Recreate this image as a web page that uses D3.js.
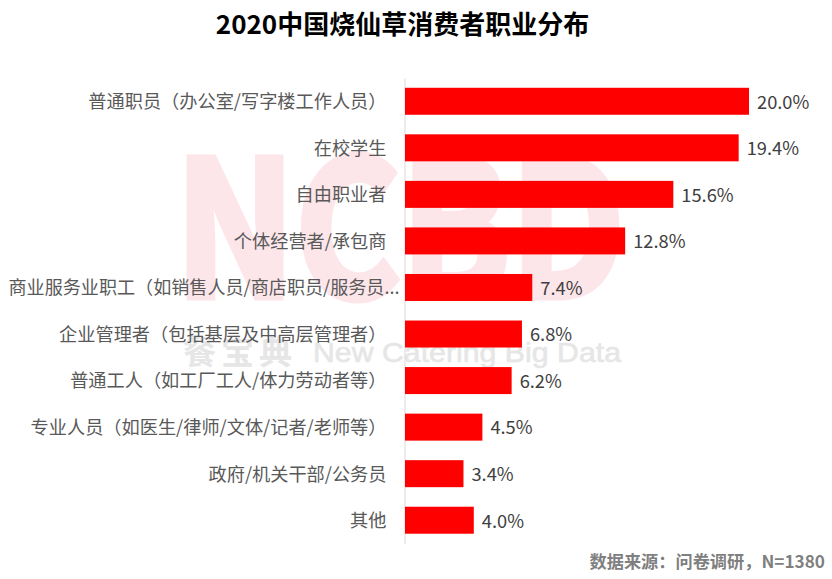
<!DOCTYPE html>
<html>

<head>
  <meta charset="utf-8">
  <title>2020中国烧仙草消费者职业分布</title>
  <style>
    body {
      margin: 0;
      padding: 0;
      background: #fff;
    }

    text {
      font-family: "Noto Sans CJK SC", sans-serif;
    }
  </style>
</head>

<body>
  <script src="https://d3js.org/d3.v7.min.js"></script>
  <div id="my_dataviz"></div>
  <script>
    var longName = "商业服务业职工（如销售人员/商店职员/服务员..."
    var data = [
      { "name": "普通职员（办公室/写字楼工作人员）", "value": 20.0 },
      { "name": "在校学生", "value": 19.4 },
      { "name": "自由职业者", "value": 15.6 },
      { "name": "个体经营者/承包商", "value": 12.8 },
      { "name": longName, "value": 7.4 },
      { "name": "企业管理者（包括基层及中高层管理者）", "value": 6.8 },
      { "name": "普通工人（如工厂工人/体力劳动者等）", "value": 6.2 },
      { "name": "专业人员（如医生/律师/文体/记者/老师等）", "value": 4.5 },
      { "name": "政府/机关干部/公务员", "value": 3.4 },
      { "name": "其他", "value": 4.0 }
    ]

    var width = 832, height = 579
    var margin = { top: 78, left: 405 }

    var svg = d3.select("#my_dataviz")
      .append("svg")
      .attr("width", width)
      .attr("height", height)
      .style("display", "block")

    // watermark goes first, bars sit on top of it
    svg.append("text")
      .attr("x", 175)
      .attr("y", 297)
      .attr("font-size", 188)
      .attr("font-weight", 700)
      .attr("fill", "#fde6ea")
      .attr("stroke", "#fde6ea")
      .attr("stroke-width", 7)
      .attr("textLength", 450)
      .attr("lengthAdjust", "spacingAndGlyphs")
      .text("NCBD")

    svg.append("text")
      .attr("x", 183)
      .attr("y", 364)
      .attr("font-size", 33)
      .attr("font-weight", 700)
      .attr("letter-spacing", 5)
      .attr("fill", "#e6e6e6")
      .text("餐宝典")

    svg.append("text")
      .attr("x", 313)
      .attr("y", 362)
      .attr("font-size", 28)
      .attr("fill", "#e6e6e6")
      .attr("stroke", "#e6e6e6")
      .attr("stroke-width", 0.6)
      .attr("textLength", 308)
      .attr("lengthAdjust", "spacingAndGlyphs")
      .style("font-family", '"Liberation Sans", sans-serif')
      .text("New Catering Big Data")

    var x = d3.scaleLinear()
      .domain([0, 20])
      .range([margin.left, 749])

    var y = d3.scaleBand()
      .domain(data.map(function (d) { return d.name }))
      .range([margin.top, 543.5])
      .paddingInner(0.42)
      .paddingOuter(0.21)

    // category axis
    var yAxis = svg.append("g")
      .attr("transform", "translate(" + (margin.left - 0.5) + ",0)")
      .call(d3.axisLeft(y).tickSize(0).tickPadding(18))

    yAxis.select(".domain")
      .attr("stroke", "#d9d9d9")
      .attr("stroke-width", 1)

    yAxis.selectAll("text")
      .attr("font-size", 18.2)
      .attr("fill", "#595959")
      .attr("dy", "0.38em")
      .style("font-family", '"Noto Sans CJK SC", sans-serif')

    // the truncated label runs closer to the axis than the others
    yAxis.selectAll("text")
      .filter(function (d) { return d == longName })
      .attr("x", -5)
      .attr("textLength", 391)
      .attr("lengthAdjust", "spacingAndGlyphs")

    svg.append("g")
      .selectAll("rect")
      .data(data)
      .enter()
      .append("rect")
      .attr("x", x(0))
      .attr("y", function (d) { return y(d.name) })
      .attr("width", function (d) { return x(d.value) - x(0) })
      .attr("height", y.bandwidth())
      .attr("fill", "#ff0000")

    svg.append("g")
      .selectAll("text")
      .data(data)
      .enter()
      .append("text")
      .attr("x", function (d) { return x(d.value) + 8 })
      .attr("y", function (d) { return y(d.name) + y.bandwidth() / 2 })
      .attr("dy", "0.4em")
      .attr("font-size", 18.3)
      .attr("fill", "#404040")
      .text(function (d) { return d.value.toFixed(1) + "%" })

    svg.append("text")
      .attr("x", 402.5)
      .attr("y", 34)
      .attr("text-anchor", "middle")
      .attr("font-size", 26)
      .attr("font-weight", 700)
      .attr("fill", "#000")
      .text("2020中国烧仙草消费者职业分布")

    svg.append("text")
      .attr("x", 825)
      .attr("y", 568)
      .attr("text-anchor", "end")
      .attr("font-size", 17.2)
      .attr("font-weight", 700)
      .attr("fill", "#7f7f7f")
      .text("数据来源：问卷调研，N=1380")
  </script>
</body>

</html>
